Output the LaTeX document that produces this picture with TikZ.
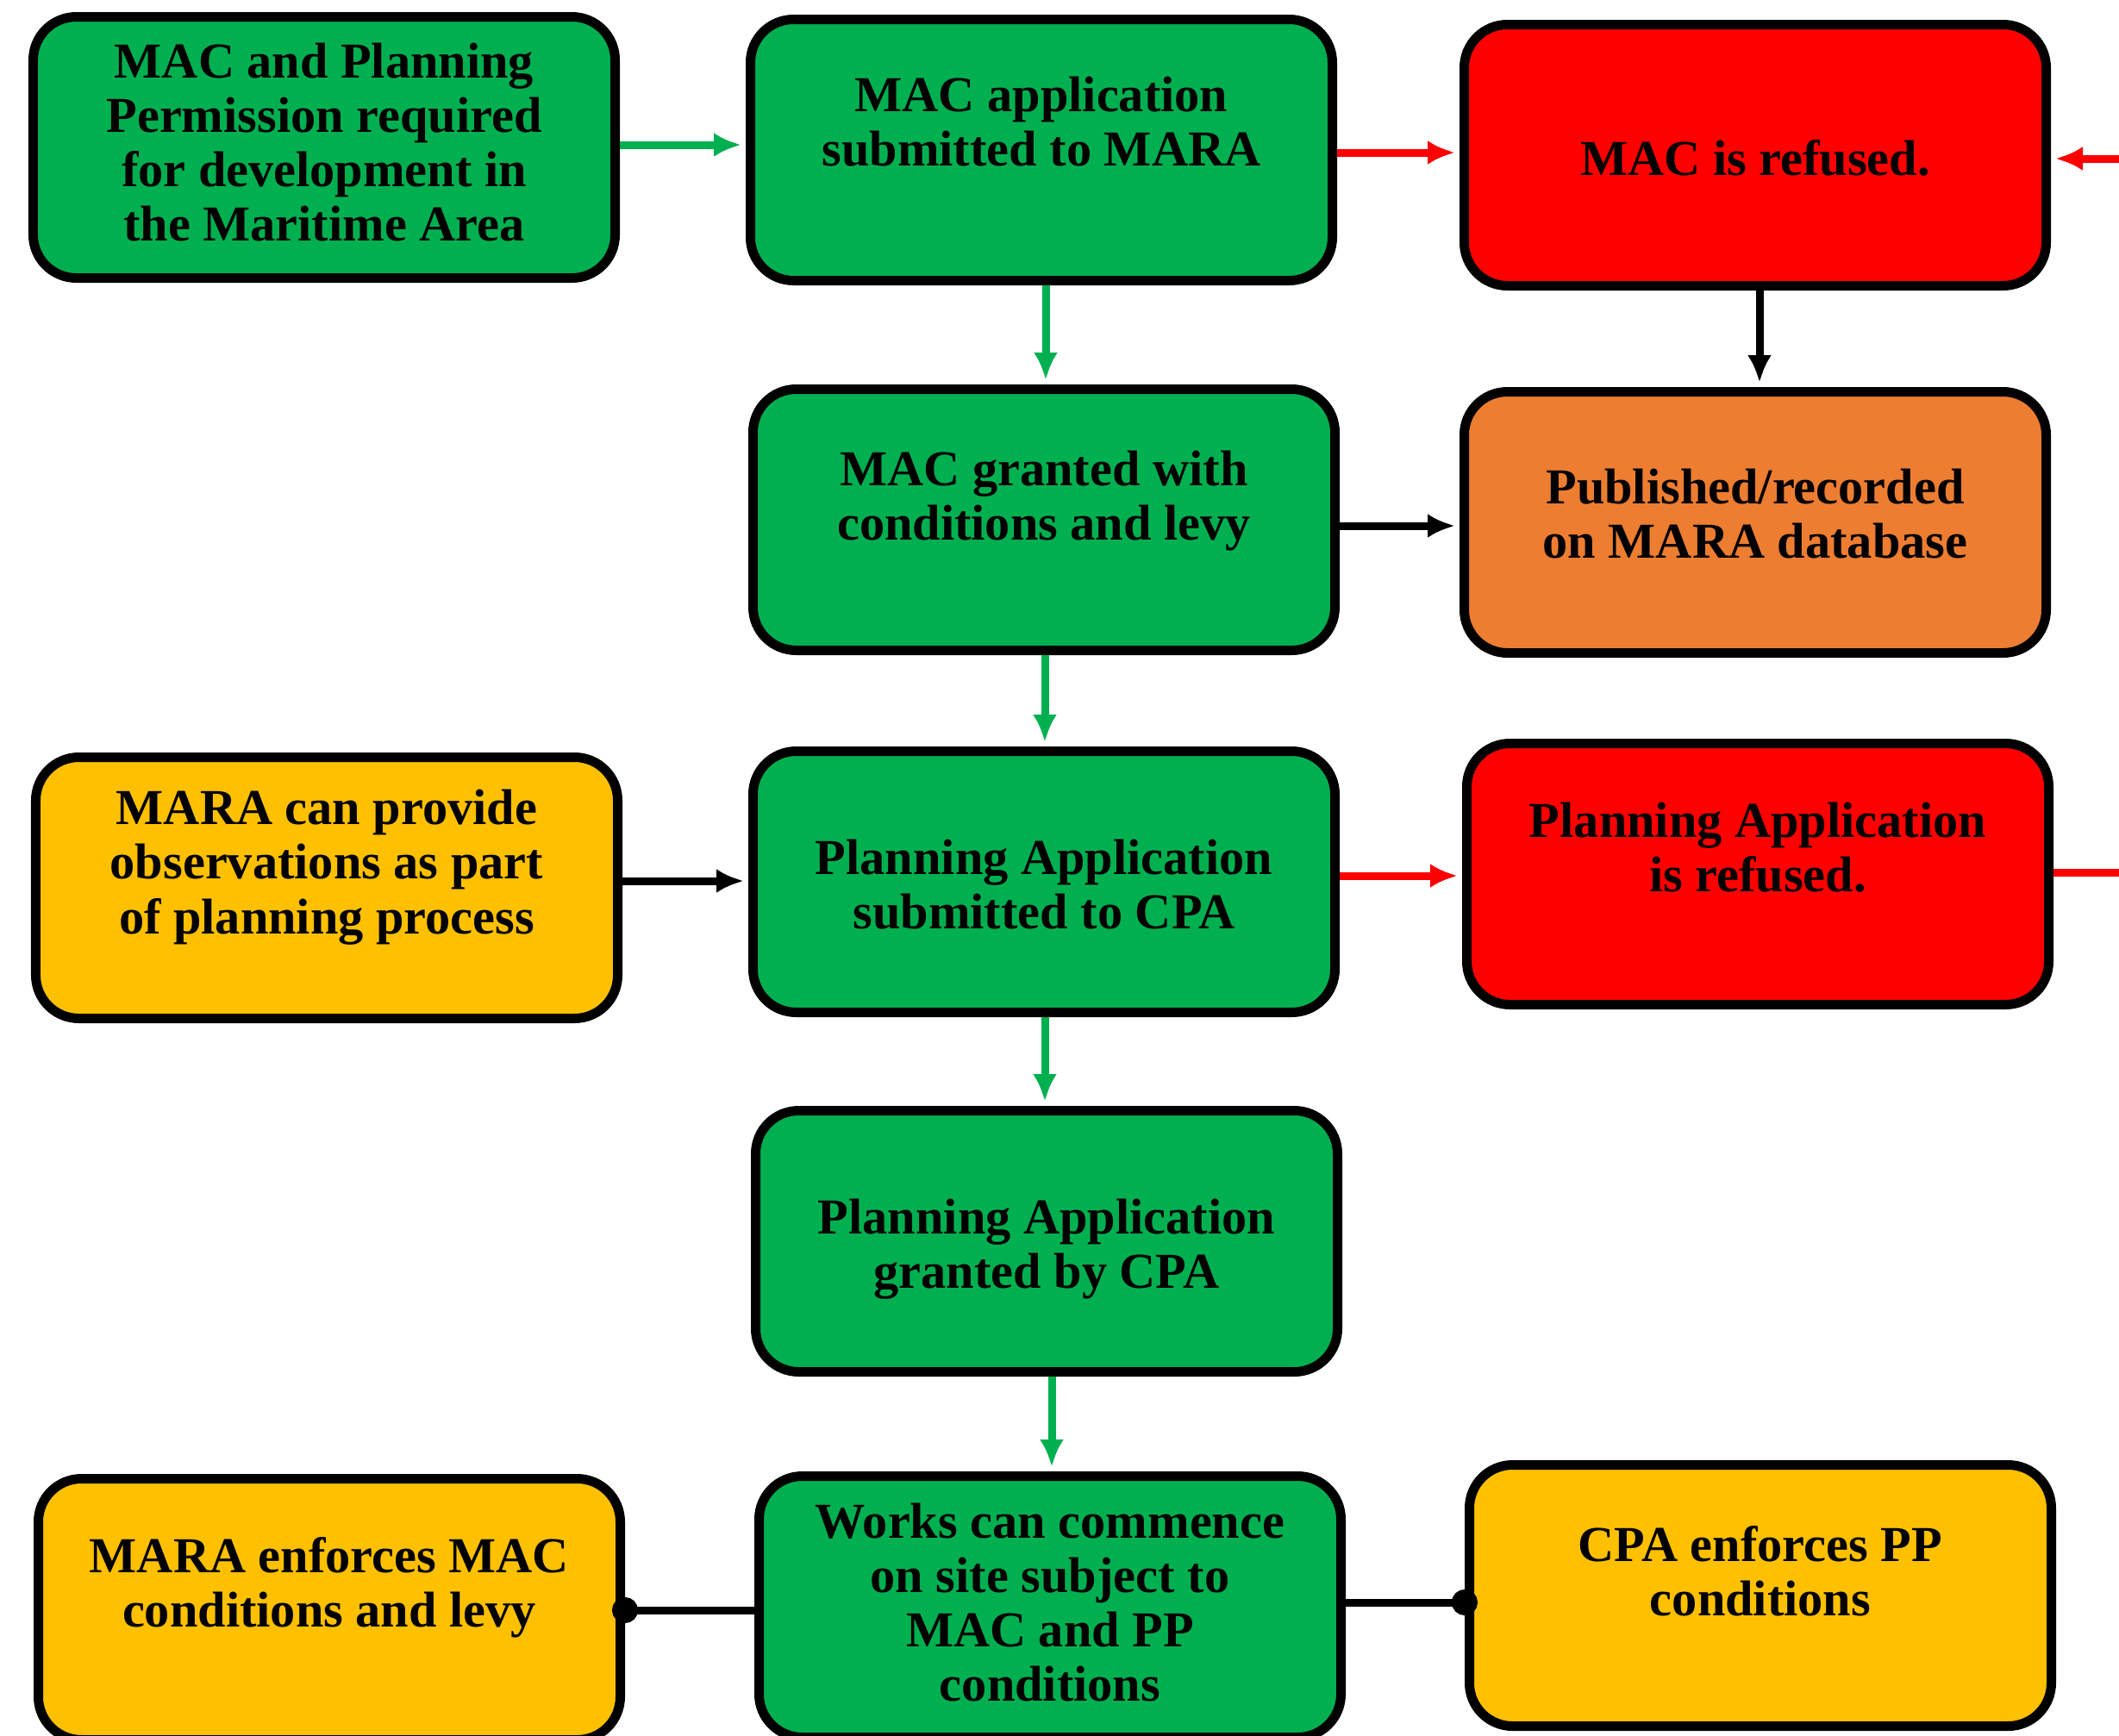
\documentclass[tikz,border=0pt]{standalone}
\usepackage{fontspec}
\setmainfont{Liberation Serif}
\usetikzlibrary{arrows.meta}

\begin{document}
\begin{tikzpicture}[stage/.style={draw,line width=0.11cm,rounded corners=0.5cm,minimum width=6.75cm,minimum height=3.03cm,inner sep=0},
  stagetext/.style={align=center,font=\bfseries\fontsize{16.6}{18}\selectfont},
  flow/.style={line width=0.09cm,-{Latex[length=0.32cm,width=0.28cm]},shorten >=0.05cm},
  tie/.style={line width=0.09cm,-{Circle[length=0.3cm]},shorten >=-0.15cm}]
\definecolor{macgreen}{HTML}{00B050}
\definecolor{refred}{HTML}{FF0000}
\definecolor{puborange}{HTML}{ED7D31}
\definecolor{cpagold}{HTML}{FFC000}
\useasboundingbox (0,0) rectangle (24.58,-20.14);
\clip (0,0) rectangle (24.58,-20.14);
  \foreach \nm/\x/\y/\crlr/\dy/\txt in {
    req/3.76/-1.71/macgreen/0.06cm/{MAC and Planning\\Permission required\\for development in\\the Maritime Area},
    macsub/12.08/-1.74/macgreen/0.33cm/{MAC application\\submitted to MARA},
    macref/20.36/-1.80/refred/-0.03cm/{MAC is refused.},
    macok/12.11/-6.03/macgreen/0.22cm/{MAC granted with\\conditions and levy},
    pub/20.36/-6.06/puborange/0.10cm/{Published/recorded\\on MARA database},
    obs/3.79/-10.30/cpagold/0.24cm/{MARA can provide\\observations as part\\of planning process},
    pasub/12.11/-10.23/macgreen/-0.03cm/{Planning Application\\submitted to CPA},
    paref/20.39/-10.14/refred/0.31cm/{Planning Application\\is refused.},
    paok/12.14/-14.40/macgreen/-0.09cm/{Planning Application\\granted by CPA},
    enfmac/3.82/-18.67/cpagold/0.25cm/{MARA enforces MAC\\conditions and levy},
    works/12.18/-18.64/macgreen/0.05cm/{Works can commence\\on site subject to\\MAC and PP\\conditions},
    enfpp/20.42/-18.51/cpagold/0.28cm/{CPA enforces PP\\conditions}}
  {  \node [stage,fill=\crlr] (\nm) at (\x,\y) {};
     \node [stagetext] (\nm-t) at ([yshift=\dy]\nm.center) {\txt};}
\coordinate (macin) at (24.9,-1.84);
\coordinate (pain) at (24.9,-10.12);
% main line
\draw [flow,macgreen] ([yshift=0.03cm]req.east) -- ([yshift=0.03cm]req.east -| macsub.west);
\draw [flow,macgreen] ([xshift=0.05cm]macsub.south) -- ([xshift=0.05cm]macsub.south |- macok.north);
\draw [flow,macgreen] ([xshift=0.01cm]macok.south) -- ([xshift=0.01cm]macok.south |- pasub.north);
\draw [flow,macgreen] ([xshift=0.01cm]pasub.south) -- ([xshift=0.01cm]pasub.south |- paok.north);
\draw [flow,macgreen] ([xshift=0.06cm]paok.south) -- ([xshift=0.06cm]paok.south |- works.north);
% refusals
\draw [flow,refred] ([yshift=-0.03cm]macsub.east) -- ([yshift=-0.03cm]macsub.east -| macref.west);
\draw [flow,refred] (macin) -- (macin -| macref.east);
\draw [flow,refred] ([yshift=0.07cm]pasub.east) -- ([yshift=0.07cm]pasub.east -| paref.west);
\draw [line width=0.09cm,refred] (pain) -- (pain -| paref.east);
% records and observations
\draw [flow] ([xshift=0.05cm]macref.south) -- ([xshift=0.05cm]macref.south |- pub.north);
\draw [flow] ([yshift=-0.07cm]macok.east) -- ([yshift=-0.07cm]macok.east -| pub.west);
\draw [flow] ([yshift=0.08cm]obs.east) -- ([yshift=0.08cm]obs.east -| pasub.west);
% enforcement
\draw [tie] ([yshift=-0.04cm]works.west) -- ([yshift=-0.04cm]works.west -| enfmac.east);
\draw [tie] ([yshift=0.05cm]works.east) -- ([yshift=0.05cm]works.east -| enfpp.west);
\end{tikzpicture}
\end{document}
